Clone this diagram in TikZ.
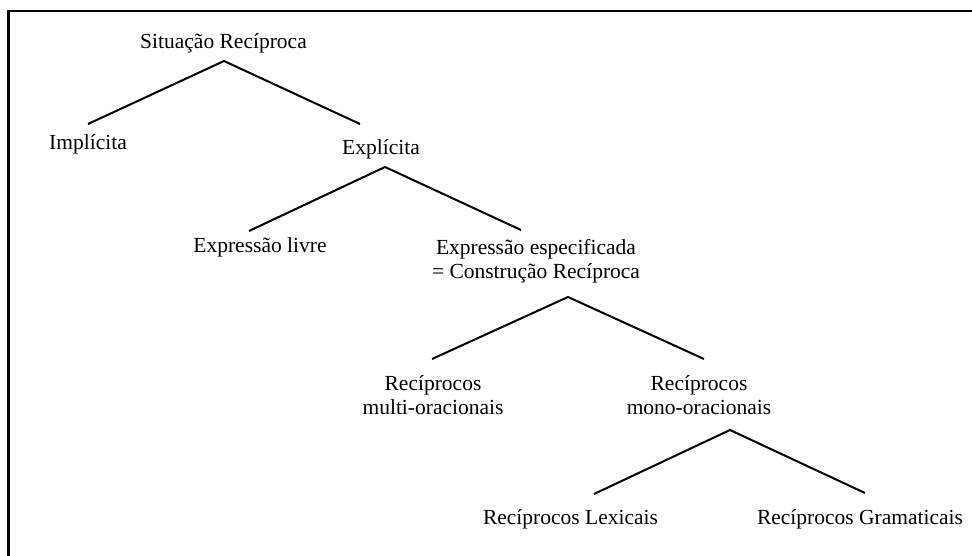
\documentclass[tikz,border=0pt]{standalone}
\usepackage{fontspec}
\setmainfont{Liberation Serif}
\begin{document}
\begin{tikzpicture}[x=1pt,y=-1pt,
  lbl/.style={font=\fontsize{21.5}{24}\selectfont, inner sep=0pt, anchor=base, align=center},
  edge/.style={line width=2pt},
  frame/.style={line width=2.4pt}]
\useasboundingbox (0,0) rectangle (972,556);
% frame (clipped at right and bottom)
\coordinate (fb) at (8.3,560);
\coordinate (fc) at (8.3,11);
\coordinate (fr) at (976,11);
\draw[frame] (fb) -- (fc) -- (fr);
% labels (multi-line nodes: base = last line)
\node[lbl] (sit) at (223.5,49) {Situação Recíproca};
\node[lbl] (imp) at (88,150) {Implícita};
\node[lbl] (exp) at (381,155) {Explícita};
\node[lbl] (liv) at (260,253) {Expressão livre};
\node[lbl] (esp) at (536,278) {Expressão especificada\\= Construção Recíproca};
\node[lbl] (mul) at (433,414) {Recíprocos\\multi-oracionais};
\node[lbl] (mon) at (699,414) {Recíprocos\\mono-oracionais};
\node[lbl] (lex) at (570.5,524) {Recíprocos Lexicais};
\node[lbl] (gra) at (860,524) {Recíprocos Gramaticais};
% connector ends
\coordinate (sitB) at (224,61);
\coordinate (impT) at (88,124);
\coordinate (expT) at (360,124);
\coordinate (expB) at (385,167);
\coordinate (livT) at (249,231);
\coordinate (espT) at (521,230);
\coordinate (espB) at (568,297);
\coordinate (mulT) at (432,359);
\coordinate (monT) at (704,359);
\coordinate (monB) at (730,430);
\coordinate (lexT) at (594,494);
\coordinate (graT) at (865,493);
% connectors
\draw[edge] (impT) -- (sitB) -- (expT);
\draw[edge] (livT) -- (expB) -- (espT);
\draw[edge] (mulT) -- (espB) -- (monT);
\draw[edge] (lexT) -- (monB) -- (graT);
\end{tikzpicture}
\end{document}
